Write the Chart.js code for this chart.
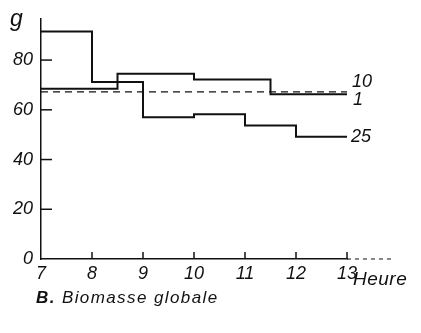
<!DOCTYPE html>
<html>
<head>
<meta charset="utf-8">
<script src="https://cdn.jsdelivr.net/npm/chart.js@4/dist/chart.umd.min.js"></script>
<style>
  html, body { margin: 0; padding: 0; background: #fff; }
  #wrap { width: 421px; height: 333px; }
</style>
</head>
<body>
<div id="wrap"><canvas id="biomasse" width="421" height="333"></canvas></div>
<script>
  // heures (axe x) et biomasse en g
  var hourTicks = [7, 8, 9, 10, 11, 12, 13];
  var massTicks = [0, 20, 40, 60, 80];

  var hours25 = [7, 8, 9, 10, 11, 12, 13];
  var mass25  = [91.5, 71.2, 57, 58.2, 53.7, 49.2, 49.2];

  var hours10 = [7, 8.5, 10, 11.5, 13];
  var mass10  = [68.5, 74.5, 72.2, 66.3, 66.3];

  var hours1 = [7, 13];
  var mass1  = [67.2, 67.2];

  var seriesLabels = ['25', '10', '1'];

  var ink = '#111';
  var family = '"Liberation Sans", Arial, sans-serif';
  var numFont = 'italic 18px ' + family;

  function pts(xs, ys) {
    return xs.map(function (x, i) { return { x: x, y: ys[i] }; });
  }

  // petites graduations vers l'interieur, textes en bout de courbe, legende
  var decor = {
    id: 'decor',
    afterDraw: function (chart) {
      var ctx = chart.ctx;
      var xs = chart.scales.x, ys = chart.scales.y;
      var area = chart.chartArea;
      ctx.save();
      ctx.strokeStyle = ink;
      ctx.fillStyle = ink;
      ctx.lineWidth = 1.5;

      massTicks.forEach(function (v) {
        if (v === 0) return;
        var py = ys.getPixelForValue(v);
        ctx.beginPath();
        ctx.moveTo(area.left, py);
        ctx.lineTo(area.left + 11, py);
        ctx.stroke();
      });
      hourTicks.forEach(function (h) {
        if (h === 7) return;
        var px = xs.getPixelForValue(h);
        ctx.beginPath();
        ctx.moveTo(px, area.bottom);
        ctx.lineTo(px, area.bottom - 7);
        ctx.stroke();
      });

      // prolongement pointille de l'axe des temps
      ctx.lineWidth = 1;
      ctx.setLineDash([4, 4]);
      ctx.beginPath();
      ctx.moveTo(area.right, area.bottom);
      ctx.lineTo(xs.getPixelForValue(13.9), area.bottom);
      ctx.stroke();
      ctx.setLineDash([]);

      ctx.font = numFont;
      ctx.textAlign = 'left';
      ctx.textBaseline = 'middle';
      var endX = xs.getPixelForValue(13) + 4;
      ctx.fillText(seriesLabels[0], endX, ys.getPixelForValue(mass25[mass25.length - 1]));
      ctx.fillText(seriesLabels[1], endX + 1, ys.getPixelForValue(mass10[mass10.length - 1]) - 12);
      ctx.fillText(seriesLabels[2], endX + 2, ys.getPixelForValue(mass1[mass1.length - 1]) + 8);

      ctx.font = 'italic 23px ' + family;
      ctx.textBaseline = 'alphabetic';
      ctx.fillText('g', 10, 26);

      ctx.font = 'italic 19px ' + family;
      if ('letterSpacing' in ctx) ctx.letterSpacing = '0.5px';
      ctx.fillText('Heure', 353, 285);

      ctx.font = 'italic bold 17px ' + family;
      if ('letterSpacing' in ctx) ctx.letterSpacing = '1.4px';
      ctx.fillText('B.', 36, 303);
      var bw = ctx.measureText('B.').width;
      ctx.font = 'italic 17px ' + family;
      ctx.fillText(' Biomasse globale', 36 + bw, 303);
      ctx.restore();
    }
  };

  var ctx = document.getElementById('biomasse').getContext('2d');
  window.biomasseChart = new Chart(ctx, {
    type: 'line',
    data: {
      datasets: [
        {
          label: seriesLabels[0],
          data: pts(hours25, mass25),
          stepped: true,
          borderColor: ink,
          borderWidth: 2,
          pointRadius: 0,
          fill: false
        },
        {
          label: seriesLabels[1],
          data: pts(hours10, mass10),
          stepped: true,
          borderColor: ink,
          borderWidth: 2,
          pointRadius: 0,
          fill: false
        },
        {
          label: seriesLabels[2],
          data: pts(hours1, mass1),
          borderColor: ink,
          borderWidth: 1.3,
          borderDash: [7, 5],
          pointRadius: 0,
          fill: false
        }
      ]
    },
    options: {
      responsive: false,
      animation: false,
      layout: { padding: { top: 15, right: 74, left: 0, bottom: 0 } },
      plugins: {
        legend: { display: false },
        tooltip: { enabled: false }
      },
      scales: {
        x: {
          type: 'linear',
          min: 7,
          max: 13,
          afterBuildTicks: function (s) { s.ticks = hourTicks.map(function (v) { return { value: v }; }); },
          afterFit: function (s) { s.height = 74; },
          grid: { display: false, drawTicks: false },
          border: { display: true, color: ink, width: 1.5 },
          ticks: { color: ink, font: { family: family, size: 18, style: 'italic' }, padding: 4, maxRotation: 0 }
        },
        y: {
          min: 0,
          max: 96.6,
          afterBuildTicks: function (s) { s.ticks = massTicks.map(function (v) { return { value: v }; }); },
          afterFit: function (s) { s.width = 41; },
          grid: { display: false, drawTicks: false },
          border: { display: true, color: ink, width: 1.5 },
          ticks: { color: ink, font: { family: family, size: 18, style: 'italic' }, padding: 8 }
        }
      }
    },
    plugins: [decor]
  });
</script>
</body>
</html>
